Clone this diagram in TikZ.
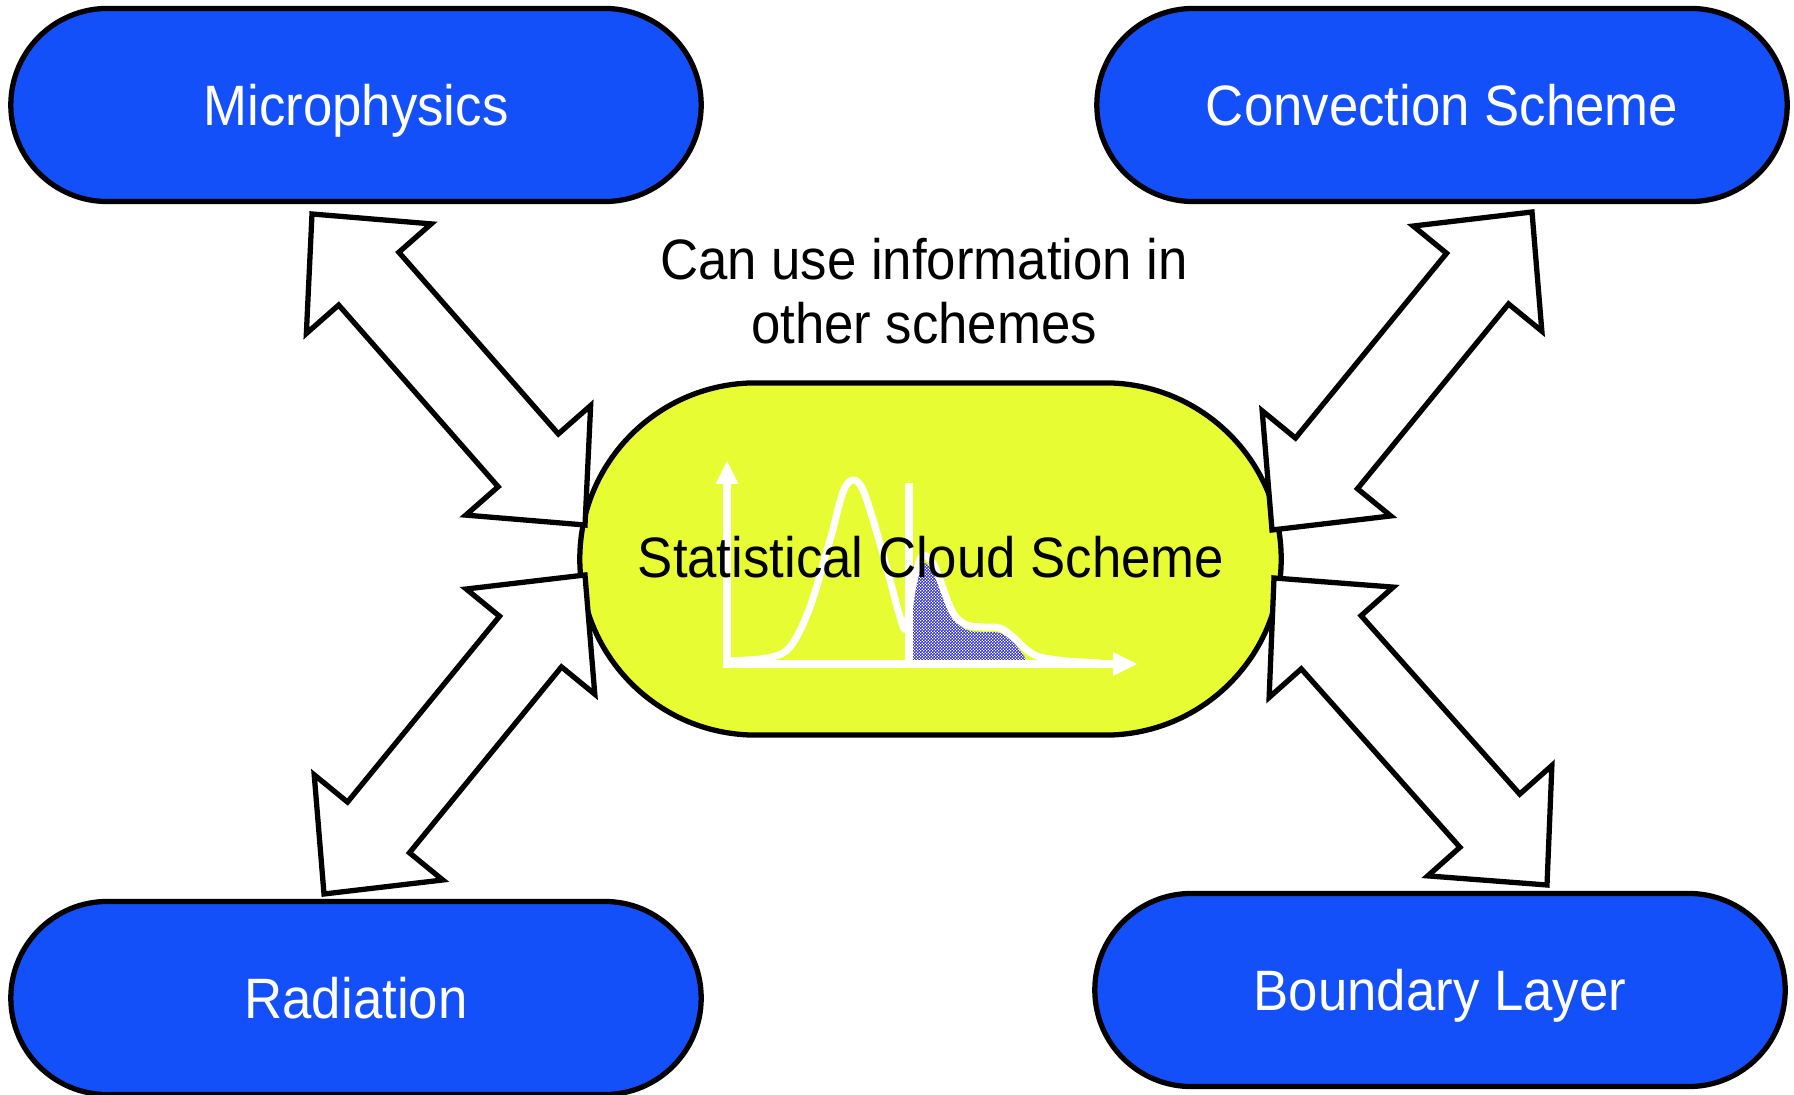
\documentclass[tikz,border=0pt]{standalone}
\usepackage{fontspec}
\setmainfont{Liberation Sans}
\usetikzlibrary{shapes.misc,calc,patterns}
\definecolor{boxblue}{RGB}{20,80,250}
\definecolor{cloudyellow}{RGB}{232,252,51}
\definecolor{dotblue}{RGB}{45,45,215}
\pgfdeclarepatternformonly{finechecks}{\pgfqpoint{0pt}{0pt}}{\pgfqpoint{0.9pt}{0.9pt}}{\pgfqpoint{0.9pt}{0.9pt}}{%
  \pgfpathrectangle{\pgfqpoint{0pt}{0pt}}{\pgfqpoint{0.55pt}{0.55pt}}%
  \pgfpathrectangle{\pgfqpoint{0.45pt}{0.45pt}}{\pgfqpoint{0.55pt}{0.55pt}}%
  \pgfusepath{fill}}
\newcommand\tall[1]{\scalebox{1}[1.08]{#1}}
\newcommand\dblarrow[2]{%
  \coordinate (h1) at ($(#1)!0.86cm!(#2)$);
  \coordinate (h2) at ($(#2)!0.86cm!(#1)$);
  \draw[blockarrow] (#1) -- ($(h1)!0.83cm!90:(#2)$) -- ($(h1)!0.40cm!90:(#2)$)
    -- ($(h2)!0.40cm!-90:(#1)$) -- ($(h2)!0.83cm!-90:(#1)$) -- (#2)
    -- ($(h2)!0.83cm!90:(#1)$) -- ($(h2)!0.40cm!90:(#1)$)
    -- ($(h1)!0.40cm!-90:(#2)$) -- ($(h1)!0.83cm!-90:(#2)$) -- cycle;}
\tikzset{
  labelfont/.style={font=\fontsize{15}{18}\selectfont},
  scheme/.style={rounded rectangle, draw=black, line width=1.5pt, fill=boxblue,
    text=white, minimum width=6.9cm, minimum height=1.93cm, inner sep=0pt,
    labelfont, text height=11.6pt, text depth=0pt},
  cloud/.style={rounded rectangle, draw=black, line width=1.5pt, fill=cloudyellow,
    minimum width=7.01cm, minimum height=3.52cm, inner sep=0pt},
  cloudtext/.style={inner sep=0pt, labelfont, text height=11.6pt, text depth=0pt},
  blockarrow/.style={draw=black, fill=white, line width=1.5pt, line join=miter},
  chartline/.style={white, line width=2pt},
}
\begin{document}
\begin{tikzpicture}[x=0.01cm, y=-0.01cm]
\useasboundingbox (0,0) rectangle (1794,1095);
\fill[white] (0,0) rectangle (1794,1095);

% outer schemes
\node[scheme] (micro) at (356,105) {\tall{Microphysics}};
\node[scheme] (conv) at (1442,105) {\tall{Convection Scheme}};
\node[scheme] (rad) at (356,998) {\tall{Radiation}};
\node[scheme] (bl) at (1440,990) {\tall{Boundary Layer}};

% central scheme
\node[cloud] (cloud) at (930.5,559) {};

% PDF sketch: shaded tail
\path[fill=white, postaction={pattern=finechecks, pattern color=dotblue}]
  (911,660) -- (911,600) -- plot[smooth, tension=0.55] coordinates {(916,574) (923,563) (933,570) (940,586) (953,618) (967,630) (983,632) (1000,633) (1013,642) (1024,656)} -- (1026,660) -- cycle;
\draw[chartline] (727,664) -- (727,480);
\fill[white] (715.5,484) -- (727,461) -- (738.5,484) -- cycle;
\draw[chartline] (723,664) -- (1116,664);
\fill[white] (1113,652) -- (1137,664) -- (1113,676) -- cycle;
\draw[chartline] (909,483) -- (909,664);
\draw[chartline, line join=round] plot[smooth, tension=0.55] coordinates {(727,661) (767,658) (790,647) (810,607) (830,540) (843,492) (853,480) (863,490) (877,533) (890,580) (900,617) (906,628) (913,585) (922,556) (933,563) (940,580) (953,613) (967,625) (983,627) (1000,628) (1013,637) (1027,650) (1040,657) (1067,661) (1100,663)};

\node[cloudtext] (cloudlabel) at (931,557) {\tall{Statistical Cloud Scheme}};

% note
\node[labelfont, align=center, inner sep=0pt] (note) at (924,291) {\tall{Can use information in}\\\tall{other schemes}};

% arrow tips
\coordinate (a1s) at (312,214);  \coordinate (a1e) at (585,525);
\coordinate (a2s) at (1532,212); \coordinate (a2e) at (1272,530);
\coordinate (a3s) at (585,575);  \coordinate (a3e) at (324,894);
\coordinate (a4s) at (1274,578); \coordinate (a4e) at (1547,885);

\dblarrow{a1s}{a1e}
\dblarrow{a2s}{a2e}
\dblarrow{a3s}{a3e}
\dblarrow{a4s}{a4e}
\end{tikzpicture}
\end{document}
